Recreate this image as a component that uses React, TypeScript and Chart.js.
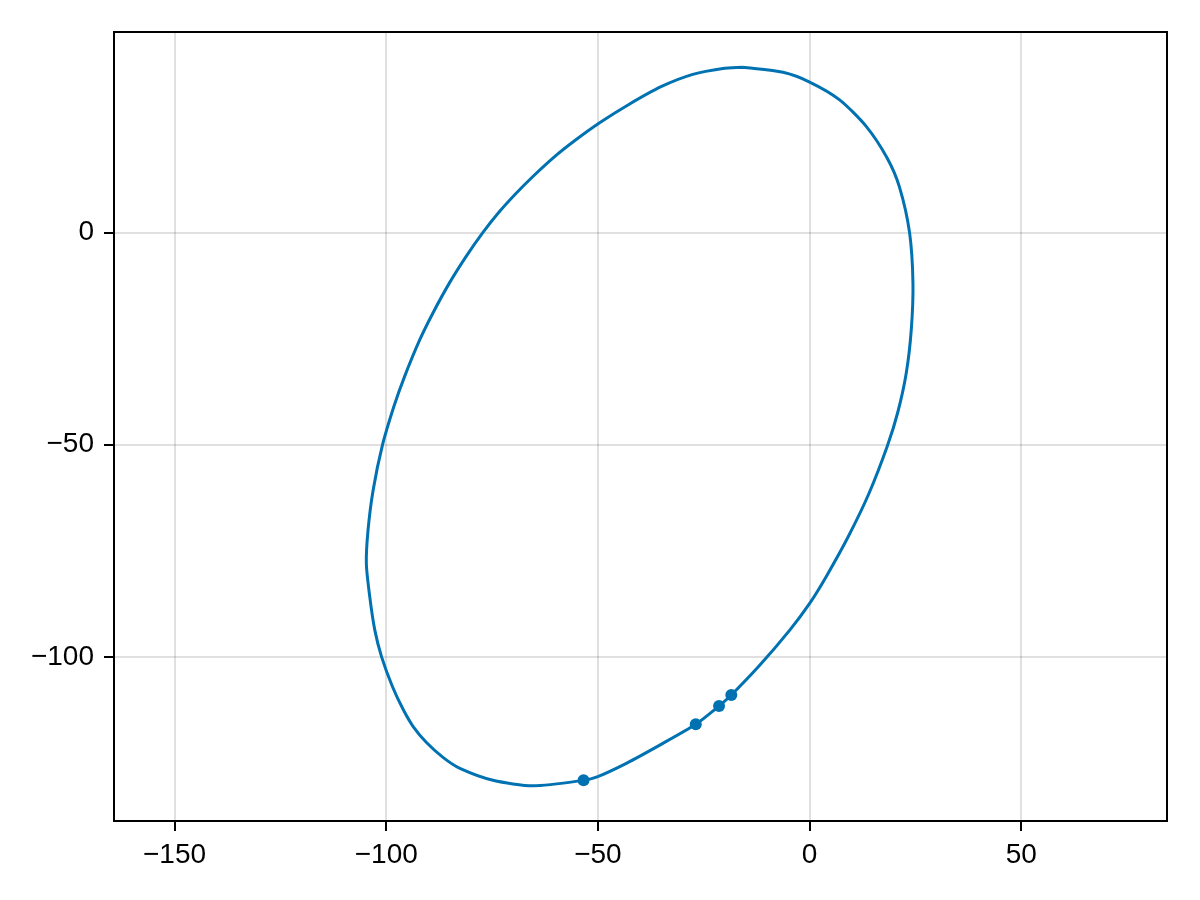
import React, { useEffect, useRef } from "react";
import { Chart, registerables } from "chart.js";

Chart.register(...registerables);

// Orbit curve, closed loop
const curveX = [
  -15.75, -6.3, 0, 7.08, 13.4, 18.3, 21.2, 23.6, 24.4, 24.0, 22.8, 20.8, 18.35,
  14.0, 9.1, 3.9, 0, -4.7, -11.8, -18.5, -21.4, -26.9, -35.4, -43.3, -50.2,
  -53.4, -65.3, -74.8, -82.6, -86.6, -90.5, -93.6, -95.9, -98.5, -101.1,
  -102.7, -103.9, -104.7, -104.3, -103.1, -100.9, -98.2, -95.7, -92.1, -89.0,
  -85.1, -81.2, -77.2, -73.4, -69.6, -65.3, -60.5, -55.6, -49.6, -42.9, -35.1,
  -27.6, -20.5, -15.75,
];
const curveY = [
  39.0, 37.8, 35.5, 31.3, 25.0, 17.6, 10.8, 0, -11.9, -22.9, -33.2, -42.4,
  -50.3, -61.5, -71.7, -81.1, -87.4, -93.7, -102.0, -109.0, -111.6, -115.9,
  -120.8, -125.1, -128.3, -129.1, -130.4, -129.1, -126.3, -123.7, -120.2,
  -116.5, -112.6, -107.1, -100, -93.7, -85.8, -78.0, -70.1, -60.7, -50.1,
  -41.0, -34.0, -25.3, -19.0, -11.9, -5.7, 0, 4.8, 9.0, 13.3, 17.7, 21.6, 25.9,
  30.1, 34.4, 37.3, 38.7, 39.0,
];

// Highlighted points
const markX = [-18.5, -21.4, -26.9, -53.4];
const markY = [-109.0, -111.6, -115.9, -129.1];

// Axes
const xTicks = [-150, -100, -50, 0, 50];
const yTicks = [-100, -50, 0];
const xRange = [-164.3, 84.4];
const yRange = [-138.7, 47.3];

const COLOR = "#0072B2";
const FONT = { family: "'Liberation Sans', Arial, sans-serif", size: 28 };

const fmt = (v: number) => String(v).replace("-", "\u2212");

const framePlugin = {
  id: "frame",
  afterDraw(chart: any) {
    const { ctx, chartArea } = chart;
    ctx.save();
    ctx.strokeStyle = "#000";
    ctx.lineWidth = 2;
    ctx.strokeRect(
      chartArea.left,
      chartArea.top,
      chartArea.right - chartArea.left,
      chartArea.bottom - chartArea.top
    );
    ctx.restore();
  },
};

export default function App() {
  const ref = useRef<HTMLCanvasElement | null>(null);

  useEffect(() => {
    document.body.style.margin = "0";
    const canvas = ref.current;
    if (!canvas) return;
    const chart = new Chart(canvas, {
      type: "scatter",
      data: {
        datasets: [
          {
            data: markX.map((x, i) => ({ x, y: markY[i] })),
            backgroundColor: COLOR,
            borderColor: COLOR,
            pointRadius: 6,
            pointBorderWidth: 0,
            showLine: false,
            order: 0,
          },
          {
            data: curveX.map((x, i) => ({ x, y: curveY[i] })),
            borderColor: COLOR,
            borderWidth: 3,
            pointRadius: 0,
            showLine: true,
            fill: false,
            tension: 0.25,
            order: 1,
          },
        ],
      },
      options: {
        responsive: false,
        animation: false,
        layout: { padding: { top: 32, right: 33, left: 0, bottom: 0 } },
        plugins: {
          legend: { display: false },
          tooltip: { enabled: false },
        },
        scales: {
          x: {
            type: "linear",
            min: xRange[0],
            max: xRange[1],
            afterBuildTicks: (scale: any) => {
              scale.ticks = xTicks.map((v) => ({ value: v }));
            },
            afterFit: (scale: any) => {
              scale.height = 79;
            },
            grid: {
              color: "rgba(0,0,0,0.12)",
              lineWidth: 2,
              drawTicks: true,
              tickLength: 10,
              tickColor: "#000",
              tickWidth: 2,
            },
            border: { display: false },
            ticks: {
              color: "#000",
              font: FONT,
              padding: 7,
              maxRotation: 0,
              autoSkip: false,
              callback: (v: any) => fmt(Number(v)),
            },
          },
          y: {
            type: "linear",
            min: yRange[0],
            max: yRange[1],
            afterBuildTicks: (scale: any) => {
              scale.ticks = yTicks.map((v) => ({ value: v }));
            },
            afterFit: (scale: any) => {
              scale.width = 114;
            },
            grid: {
              color: "rgba(0,0,0,0.12)",
              lineWidth: 2,
              drawTicks: true,
              tickLength: 10,
              tickColor: "#000",
              tickWidth: 2,
            },
            border: { display: false },
            ticks: {
              color: "#000",
              font: FONT,
              padding: 10,
              autoSkip: false,
              callback: (v: any) => fmt(Number(v)),
            },
          },
        },
      },
      plugins: [framePlugin],
    });
    return () => chart.destroy();
  }, []);

  return (
    <div style={{ width: 1200, height: 900, background: "#fff" }}>
      <canvas ref={ref} width={1200} height={900} />
    </div>
  );
}
